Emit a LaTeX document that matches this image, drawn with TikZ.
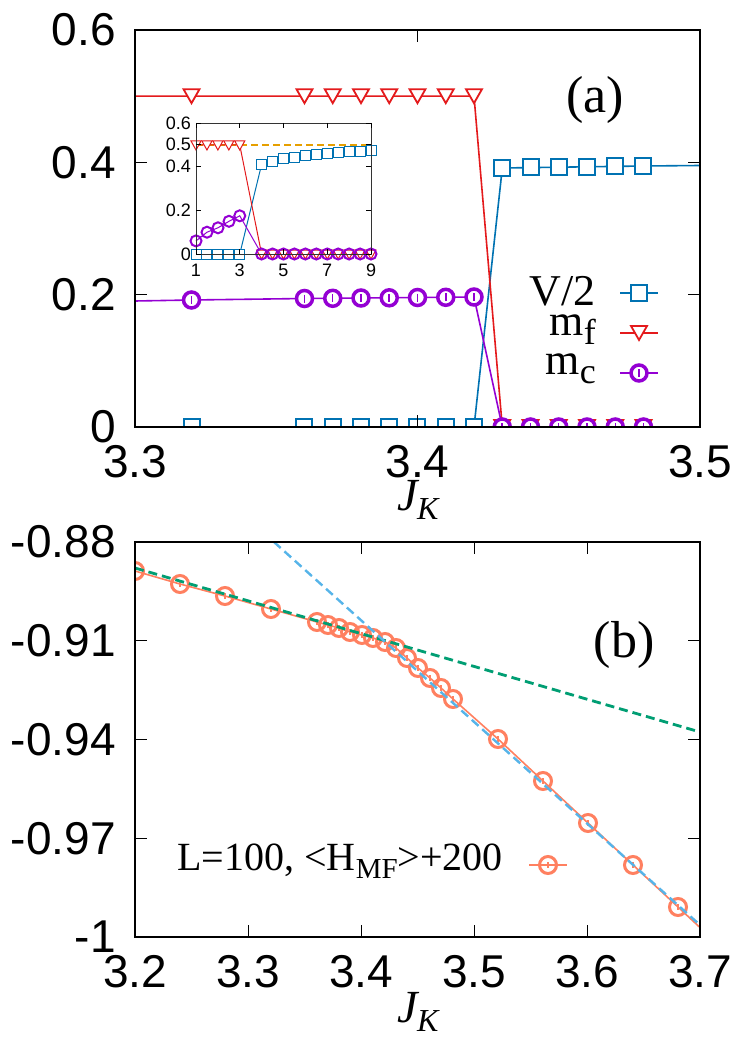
\documentclass[tikz,border=0pt]{standalone}
\usepackage{fontspec}
\setmainfont{Liberation Serif}
\newfontfamily\ticks{Liberation Sans}
\definecolor{cV}{HTML}{0072B2}
\definecolor{cF}{HTML}{E41A1C}
\definecolor{cC}{HTML}{9400D3}
\definecolor{cO}{HTML}{E69F00}
\definecolor{cG}{HTML}{009E73}
\definecolor{cB}{HTML}{56B4E9}
\definecolor{cS}{HTML}{FF8060}
\tikzset{
 frame/.style={draw=black,line width=2.6pt},
 tk/.style={line width=1pt},
 ticklab/.style={font=\ticks\fontsize{46}{46}\selectfont,inner sep=0pt},
 iticklab/.style={font=\ticks\fontsize{18}{18}\selectfont,inner sep=0pt},
 sqm/.pic={\draw[cV,line width=2pt,fill=white] (-8,-8) rectangle (8,8);},
 trm/.pic={\draw[cF,line width=1.8pt,fill=white] (-8,-7) -- (8,-7) -- (0,7) -- cycle;},
 cim/.pic={\draw[cC,line width=3.5pt,fill=white] (0,0) circle (8); \draw[cC,line width=1.5pt] (0,-4)--(0,4);},
 isq/.pic={\draw[cV,line width=1pt,fill=white] (-5,-5) rectangle (5,5);},
 itr/.pic={\draw[cF,line width=1pt,fill=white] (-5,-4) -- (5,-4) -- (0,5) -- cycle;},
 ici/.pic={\draw[cC,line width=2pt] (0,0) circle (5.5);},
 bci/.pic={\draw[cS,line width=3pt] (0,0) circle (8.5); \draw[cS,line width=1.2pt] (0,-3)--(0,3);},
}
\begin{document}
\begin{tikzpicture}[x=1pt,y=-1pt]
\useasboundingbox (0,0) rectangle (748,1043);
\fill[white] (0,0) rectangle (748,1043);
% ================= panel (a)
\begin{scope}
\clip (135,30) rectangle (700,427);
\draw[cV,line width=1.6pt] (135,427) -- (474,427) -- (502.3,168) -- (643.5,166) -- (700,165.5);
\draw[cF,line width=1.6pt] (135,96.2) -- (474,96.2) -- (502.3,427) -- (700,427);
\draw[cC,line width=1.6pt] (135,301) -- (191.5,300) -- (304.5,298.5) -- (474,297) -- (502.3,427) -- (700,427);
\foreach \x in {3.32,3.36,3.37,3.38,3.39,3.40,3.41,3.42} \pic at ({135+(\x-3.3)*2825},427) {sqm};
\foreach \x/\y in {3.43/168,3.44/167.5,3.45/167,3.46/167,3.47/166.5,3.48/166} \pic at ({135+(\x-3.3)*2825},\y) {sqm};
\foreach \x in {3.32,3.36,3.37,3.38,3.39,3.40,3.41,3.42} \pic at ({135+(\x-3.3)*2825},96.2) {trm};
\foreach \x in {3.43,3.44,3.45,3.46,3.47,3.48} \pic at ({135+(\x-3.3)*2825},427) {trm};
\foreach \x/\y in {3.32/300,3.36/298.5,3.37/298.3,3.38/298,3.39/297.8,3.40/297.5,3.41/297.3,3.42/297} \pic at ({135+(\x-3.3)*2825},\y) {cim};
\foreach \x in {3.43,3.44,3.45,3.46,3.47,3.48} \pic at ({135+(\x-3.3)*2825},427) {cim};
\end{scope}
\draw[frame] (135,30) rectangle (700,427);
\foreach \x/\l in {135/3.3,417.5/3.4,700/3.5}{
  \draw[tk] (\x,427) -- ++(0,-12); \draw[tk] (\x,30) -- ++(0,12);
  \node[ticklab] at (\x,462) {\l};}
\foreach \y/\l in {427/0,294.7/0.2,162.3/0.4,30/0.6}{
  \draw[tk] (135,\y) -- ++(12,0); \draw[tk] (700,\y) -- ++(-12,0);
  \node[ticklab,anchor=east] at (116,\y) {\l};}
\node[font=\fontsize{46}{46}\selectfont\itshape,inner sep=0pt] at (418,500) {J\kern-1pt\raisebox{-9pt}{\fontsize{32}{32}\selectfont K}};
\node[font=\fontsize{52}{52}\selectfont,inner sep=0pt] at (595,100) {(a)};
% legend
\node[font=\fontsize{44}{44}\selectfont,inner sep=0pt,anchor=east] at (596,291) {V/2};
\node[font=\fontsize{44}{44}\selectfont,inner sep=0pt,anchor=east] at (596,330) {m\raisebox{-9pt}{\fontsize{36}{36}\selectfont f}};
\node[font=\fontsize{44}{44}\selectfont,inner sep=0pt,anchor=east] at (596,369) {m\raisebox{-9pt}{\fontsize{36}{36}\selectfont c}};
\draw[cV,line width=1.6pt] (620,293) -- (658,293); \pic at (639,293) {sqm};
\draw[cF,line width=1.6pt] (620,333) -- (658,333); \pic at (639,333) {trm};
\draw[cC,line width=1.6pt] (620,373) -- (658,373); \pic at (639,373) {cim};
% ================= inset
\fill[white] (196,123) rectangle (371,254);
\begin{scope}
\draw[cO,line width=2.2pt,dash pattern=on 7pt off 4pt] (196,145) -- (371,145);
\draw[cV,line width=1pt] (196,254) -- (239.75,254) -- (261.6,164.5) -- (272.6,161.2) -- (283.5,159) -- (294.5,157.3) -- (305.4,156) -- (316.4,154.9) -- (327.3,153.8) -- (338.2,152.9) -- (349.2,152) -- (360.1,151.2) -- (371,150.5);
\draw[cF,line width=1pt] (196,145) -- (239.75,145) -- (261.6,254) -- (371,254);
\draw[cC,line width=1pt] (196,240.9) -- (207,232.2) -- (218,227.8) -- (229,221.3) -- (239.75,215.8) -- (261.6,254) -- (371,254);
\foreach \i in {0,...,4} \pic at ({196+\i*10.94},254) {isq};
\foreach \x/\y in {261.6/164.5,272.6/161.2,283.5/159,294.5/157.3,305.4/156,316.4/154.9,327.3/153.8,338.2/152.9,349.2/152,360.1/151.2,371/150.5} \pic at (\x,\y) {isq};
\foreach \i in {0,...,4} \pic at ({196+\i*10.94},145) {itr};
\foreach \i in {0,...,10} \pic at ({261.6+\i*10.94},254) {itr};
\foreach \x/\y in {196/240.9,207/232.2,218/227.8,229/221.3,239.75/215.8} \pic at (\x,\y) {ici};
\foreach \i in {0,...,10} \pic at ({261.6+\i*10.94},254) {ici};
\end{scope}
\draw[line width=0.8pt,black!80] (196,123) rectangle (371,254);
\foreach \x/\l in {196/1,239.75/3,283.5/5,327.25/7,371/9}{
  \draw[line width=0.6pt] (\x,254) -- ++(0,-5); \draw[line width=0.6pt] (\x,123) -- ++(0,5);
  \node[iticklab] at (\x,270) {\l};}
\foreach \y/\l in {254/0,210.3/0.2,166.7/0.4,144.8/0.5,123/0.6}{
  \draw[line width=0.6pt] (196,\y) -- ++(5,0); \draw[line width=0.6pt] (371,\y) -- ++(-5,0);
  \node[iticklab,anchor=east] at (191,\y) {\l};}
% ================= panel (b)
\begin{scope}
\clip (135,542) rectangle (700,937);
\draw[cS,line width=1.6pt] (135,571) -- (180,584) -- (225,596) -- (271,609) -- (317,622) -- (328,625) -- (339,628) -- (350,632) -- (362,635) -- (373,638) -- (385,642) -- (396,648) -- (407,658) -- (418,668) -- (430,678) -- (441,688) -- (453,699) -- (498,739) -- (543,781) -- (588,823) -- (633,865) -- (678,907) -- (723,949);
\foreach \x/\y in {135/571,180/584,225/596,271/609,317/622,328/625,339/628,350/632,362/635,373/638,385/642,396/648,407/658,418/668,430/678,441/688,453/699,498/739,543/781,588/823,633/865,678/907} \pic at (\x,\y) {bci};
\draw[cG,line width=2.8pt,dash pattern=on 9pt off 5pt] (135,568) -- (700,732);
\draw[cB,line width=2.4pt,dash pattern=on 9pt off 5pt] (274,542) -- (700,925);
\end{scope}
\draw[frame] (135,542) rectangle (700,937);
\foreach \x/\l in {135/3.2,248/3.3,361/3.4,474/3.5,587/3.6,700/3.7}{
  \draw[tk] (\x,937) -- ++(0,-12); \draw[tk] (\x,542) -- ++(0,12);
  \node[ticklab] at (\x,972) {\l};}
\foreach \y/\l in {542/-0.88,640.75/-0.91,739.5/-0.94,838.25/-0.97,937/-1}{
  \draw[tk] (135,\y) -- ++(12,0); \draw[tk] (700,\y) -- ++(-12,0);
  \node[ticklab,anchor=east] at (116,\y) {\l};}
\node[font=\fontsize{46}{46}\selectfont\itshape,inner sep=0pt] at (418,1012) {J\kern-1pt\raisebox{-9pt}{\fontsize{32}{32}\selectfont K}};
\node[font=\fontsize{52}{52}\selectfont,inner sep=0pt] at (624,645) {(b)};
\node[font=\fontsize{40}{40}\selectfont,inner sep=0pt,anchor=east] at (503,861) {L=100, <H\raisebox{-8pt}{\fontsize{29}{29}\selectfont MF}>+200};
\draw[cS,line width=1.6pt] (529,865) -- (567,865); \pic at (548,865) {bci};
\end{tikzpicture}
\end{document}
